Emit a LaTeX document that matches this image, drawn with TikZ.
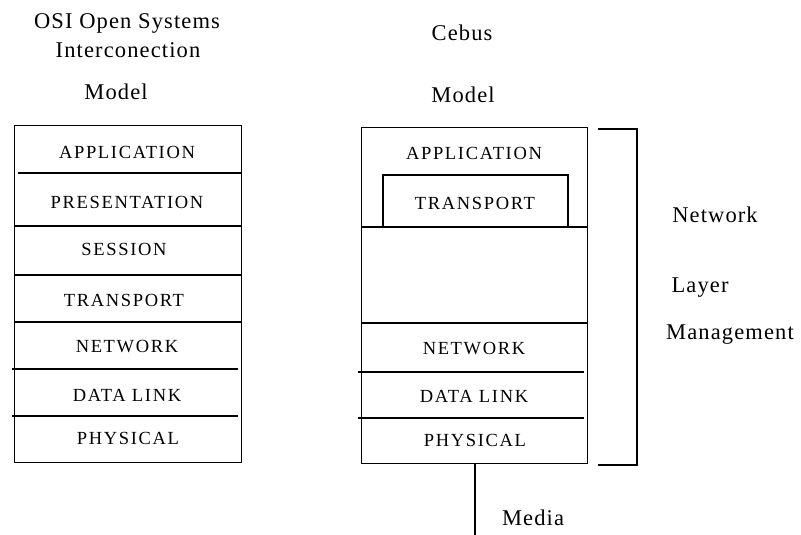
\documentclass[tikz,border=0pt]{standalone}
\usepackage{fontspec}
\setmainfont{Liberation Serif}
\begin{document}
\begin{tikzpicture}[x=1pt,y=-1pt,line width=1.3pt,
  stack/.style={draw,rectangle,inner sep=0pt,anchor=north west},
  lay/.style={inner sep=0pt,font=\fontsize{18.5}{18.5}\selectfont\addfontfeatures{LetterSpace=9}},
  ttl/.style={inner sep=0pt,font=\fontsize{22.5}{22.5}\selectfont\addfontfeatures{LetterSpace=5}}]
\useasboundingbox (0,0) rectangle (801,535);

% titles
\node[ttl] (t1) at (127,23) {OSI Open Systems};
\node[ttl] (t2) at (128,50) {Interconection};
\node[ttl] (t3) at (116,92) {Model};
\node[ttl] (t4) at (462,33) {Cebus};
\node[ttl] (t5) at (463,95) {Model};

% OSI seven-layer stack
\node[stack,minimum width=227pt,minimum height=337pt] (osi) at (14,125) {};
\draw (18,173) -- (241,173);
\draw (14,226) -- (241,226);
\draw (14,275) -- (241,275);
\draw (14,322) -- (241,322);
\draw (12,369) -- (238,369);
\draw (12,416) -- (238,416);
\node[lay] (o1) at (127,152) {APPLICATION};
\node[lay] (o2) at (127,202) {PRESENTATION};
\node[lay] (o3) at (124,249) {SESSION};
\node[lay] (o4) at (124,300) {TRANSPORT};
\node[lay] (o5) at (127,347) {NETWORK};
\node[lay] (o6) at (127,395) {DATA LINK};
\node[lay] (o7) at (128,438) {PHYSICAL};

% CEBus stack
\node[stack,minimum width=226pt,minimum height=336pt] (ceb) at (361,127) {};
\draw (383,227) -- (383,175) -- (568,175) -- (568,227);
\draw (361,227) -- (587,227);
\draw (361,323) -- (587,323);
\draw (358,372) -- (584,372);
\draw (358,418) -- (584,418);
\node[lay] (c1) at (474,153) {APPLICATION};
\node[lay] (c2) at (475,203) {TRANSPORT};
\node[lay] (c3) at (474,349) {NETWORK};
\node[lay] (c4) at (474,396) {DATA LINK};
\node[lay] (c5) at (475,440) {PHYSICAL};

% media line
\coordinate (mediaend) at (475,535);
\draw (ceb.south -| mediaend) -- (mediaend);
\node[ttl] (media) at (533,518) {Media};

% layer management bracket
\draw (598,129) -- (637,129) -- (637,465) -- (598,465);
\node[ttl] (m1) at (715,215) {Network};
\node[ttl] (m2) at (700,288) {Layer};
\node[ttl] (m3) at (730,335) {Management};
\end{tikzpicture}
\end{document}
